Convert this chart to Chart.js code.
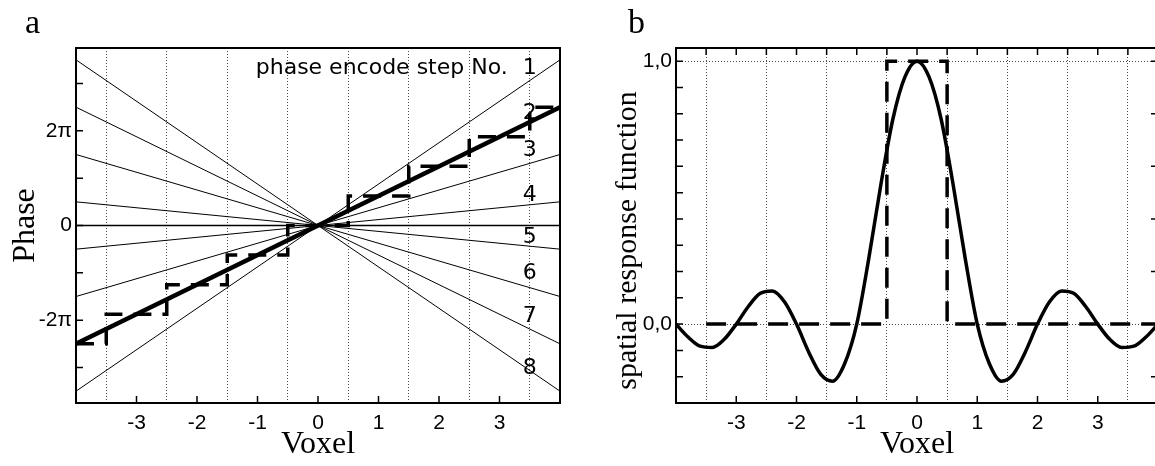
<!DOCTYPE html>
<html>
<head>
<meta charset="utf-8">
<title>Phase encoding and spatial response</title>
<script src="https://cdn.jsdelivr.net/npm/chart.js"></script>
<style>
  html, body { margin: 0; padding: 0; background: #fff; }
  body { width: 1155px; height: 466px; overflow: hidden; position: relative; }
  .panel { position: absolute; top: 0; }
  #panelA { left: 0; }
  #panelB { left: 580px; }
</style>
</head>
<body>
<div class="panel" id="panelA"><canvas id="phaseChart" width="580" height="466"></canvas></div>
<div class="panel" id="panelB"><canvas id="responseChart" width="600" height="466"></canvas></div>

<script>
// ---- panel a: phase (in units of pi) along the voxel axis, 8 phase encode steps
const stepNames = ['1', '2', '3', '4', '5', '6', '7', '8'];
const stepPhaseLeft = [-3.5, -2.5, -1.5, -0.5, 0.5, 1.5, 2.5, 3.5];   // at voxel -4
const stepPhaseRight = [3.5, 2.5, 1.5, 0.5, -0.5, -1.5, -2.5, -3.5];  // at voxel +4
const boldStep = 1; // step No. 2 drawn heavy
const lineEnds = [-4, 4];
const zeroPhase = [0, 0];
const voxelCentres = [-4, -3, -2, -1, 0, 1, 2, 3, 4];
const sampledPhase = [-2.5, -1.875, -1.25, -0.625, 0, 0.625, 1.25, 1.875, 2.5];
const voxelTicks = [-3, -2, -1, 0, 1, 2, 3];
const phaseTicks = [-3, -2, -1, 0, 1, 2, 3];
const phaseTickText = { '-2': '-2π', '0': '0', '2': '2π' };

// ---- panel b: spatial response function
const responseX = [-4, -3.8, -3.6, -3.4, -3.2, -3, -2.8, -2.6, -2.4, -2.2, -2, -1.8, -1.6, -1.4, -1.2, -1,
  -0.8, -0.6, -0.4, -0.2, 0, 0.2, 0.4, 0.6, 0.8, 1, 1.2, 1.4, 1.6, 1.8, 2, 2.2, 2.4, 2.6, 2.8, 3,
  3.2, 3.4, 3.6, 3.8, 4];
const responseY = [0, -0.049, -0.084, -0.089, -0.058, 0, 0.067, 0.117, 0.126, 0.085, 0, -0.105, -0.19, -0.217, -0.15, 0,
  0.25, 0.53, 0.78, 0.94, 1, 0.94, 0.78, 0.53, 0.25, 0, -0.15, -0.217, -0.19, -0.105, 0, 0.085, 0.126, 0.117, 0.067, 0,
  -0.058, -0.089, -0.084, -0.049, 0];
const boxX = [-3.5, -0.5, -0.5, 0.5, 0.5, 4];
const boxY = [0, 0, 1, 1, 0, 0];
const responseTicks = [-0.2, -0.1, 0, 0.1, 0.2, 0.3, 0.4, 0.5, 0.6, 0.7, 0.8, 0.9, 1.0];
const responseTicksRight = [-0.2, 0, 0.2, 0.4, 0.6, 0.8, 1.0];
const halfVoxelTicks = [-3.5, -3, -2.5, -2, -1.5, -1, -0.5, 0, 0.5, 1, 1.5, 2, 2.5, 3, 3.5];

const pts = (xs, ys) => xs.map((x, i) => ({ x: x, y: ys[i] }));

const xTickFont = { family: 'Liberation Sans', size: 21 };
const yTickFont = { family: 'Liberation Sans', size: 21 };
const titleFont = { family: 'Liberation Serif', size: 32 };
const gridGrey = '#4a4a4a';

// frame, inward tick marks and text labels drawn through the chart scales
const framePlugin = {
  id: 'frame',
  afterDatasetsDraw(chart, args, o) {
    const ctx = chart.ctx;
    const a = chart.chartArea;
    const x = chart.scales.x, y = chart.scales.y;
    ctx.save();
    ctx.strokeStyle = '#000';
    ctx.lineWidth = 1.5;
    ctx.beginPath();
    (o.bottom || []).forEach(v => { const p = x.getPixelForValue(v); ctx.moveTo(p, a.bottom); ctx.lineTo(p, a.bottom - o.tick); });
    (o.top || []).forEach(v => { const p = x.getPixelForValue(v); ctx.moveTo(p, a.top); ctx.lineTo(p, a.top + o.tick); });
    (o.left || []).forEach(v => { const p = y.getPixelForValue(v); ctx.moveTo(a.left, p); ctx.lineTo(a.left + o.tick, p); });
    (o.right || []).forEach(v => { const p = y.getPixelForValue(v); ctx.moveTo(a.right, p); ctx.lineTo(a.right - o.tick, p); });
    ctx.stroke();
    ctx.lineWidth = 2;
    ctx.strokeRect(a.left, a.top, a.width, a.height);

    ctx.fillStyle = '#000';
    ctx.textBaseline = 'alphabetic';
    (o.texts || []).forEach(t => {
      ctx.font = t.font;
      ctx.textAlign = t.align || 'center';
      ctx.fillText(t.text, x.getPixelForValue(t.x) + (t.dx || 0), y.getPixelForValue(t.y));
    });
    if (o.letter) {
      ctx.font = '34px "Liberation Serif"';
      ctx.textAlign = 'left';
      ctx.fillText(o.letter.text, o.letter.left, o.letter.baseline);
    }
    ctx.restore();
  }
};

// ---------------- panel a ----------------
const phaseDatasets = [];
phaseDatasets.push({
  label: 'sampled phase',
  data: pts(voxelCentres, sampledPhase),
  stepped: 'middle',
  borderColor: '#000', borderWidth: 3.5, borderDash: [18, 11], pointRadius: 0
});
phaseDatasets.push({
  label: 'step ' + stepNames[boldStep],
  data: pts(lineEnds, [stepPhaseLeft[boldStep], stepPhaseRight[boldStep]]),
  borderColor: '#000', borderWidth: 4.5, pointRadius: 0
});
stepNames.forEach((name, i) => {
  phaseDatasets.push({
    label: 'step ' + name,
    data: pts(lineEnds, [stepPhaseLeft[i], stepPhaseRight[i]]),
    borderColor: '#000', borderWidth: 1, pointRadius: 0
  });
});
phaseDatasets.push({
  label: 'zero',
  data: pts(lineEnds, zeroPhase),
  borderColor: '#000', borderWidth: 1.3, pointRadius: 0
});

const stepLabelPhase = [3.21, 2.26, 1.46, 0.51, -0.38, -1.12, -2.03, -3.13];
const phaseTexts = stepNames.map((n, i) => ({ text: n, x: 3.5, y: stepLabelPhase[i], font: '22px "DejaVu Sans"' }));
phaseTexts.push({ text: 'phase encode step No.', x: 3.5, dx: -22, y: stepLabelPhase[0], align: 'right', font: '22px "DejaVu Sans"' });

new Chart(document.getElementById('phaseChart'), {
  type: 'line',
  data: { datasets: phaseDatasets },
  options: {
    responsive: false,
    animation: false,
    layout: { padding: { left: 0, right: 20, top: 48, bottom: 0 } },
    plugins: {
      legend: { display: false },
      tooltip: { enabled: false },
      frame: {
        tick: 7,
        bottom: voxelTicks,
        left: phaseTicks,
        texts: phaseTexts,
        letter: { text: 'a', left: 25, baseline: 33 }
      }
    },
    scales: {
      x: {
        type: 'linear', min: -4, max: 4,
        ticks: {
          stepSize: 0.5, autoSkip: false, maxRotation: 0, padding: 8, color: '#000', font: xTickFont,
          callback: v => (Number.isInteger(v) && Math.abs(v) < 4) ? String(v) : ''
        },
        grid: {
          drawTicks: false, lineWidth: 1,
          color: c => (c.tick && !Number.isInteger(c.tick.value)) ? gridGrey : 'rgba(0,0,0,0)'
        },
        border: { display: false, dash: [1, 2] },
        title: { display: true, text: 'Voxel', color: '#000', font: titleFont, padding: { top: 0, bottom: 2 } },
        afterFit: s => { s.height = 63; }
      },
      y: {
        type: 'linear', min: -3.75, max: 3.75,
        ticks: {
          stepSize: 1, padding: 4, includeBounds: false, color: '#000', font: yTickFont,
          callback: v => phaseTickText[String(v)] || ''
        },
        grid: { display: false, drawTicks: false },
        border: { display: false },
        title: { display: true, text: 'Phase', color: '#000', font: titleFont, padding: { top: 6, bottom: 0 } },
        afterFit: s => { s.width = 76; }
      }
    }
  },
  plugins: [framePlugin]
});

// ---------------- panel b ----------------
new Chart(document.getElementById('responseChart'), {
  type: 'line',
  data: {
    datasets: [
      {
        label: 'spatial response',
        data: pts(responseX, responseY),
        cubicInterpolationMode: 'monotone',
        borderColor: '#000', borderWidth: 3.5, pointRadius: 0
      },
      {
        label: 'voxel profile',
        data: pts(boxX, boxY),
        borderColor: '#000', borderWidth: 3.5, borderDash: [20, 11], pointRadius: 0
      }
    ]
  },
  options: {
    responsive: false,
    animation: false,
    layout: { padding: { left: 0, right: 22, top: 48, bottom: 0 } },
    plugins: {
      legend: { display: false },
      tooltip: { enabled: false },
      frame: {
        tick: 7,
        bottom: voxelTicks,
        top: halfVoxelTicks,
        left: responseTicks,
        right: responseTicksRight,
        letter: { text: 'b', left: 48, baseline: 33 }
      }
    },
    scales: {
      x: {
        type: 'linear', min: -4, max: 4,
        ticks: {
          stepSize: 0.5, autoSkip: false, maxRotation: 0, padding: 8, color: '#000', font: xTickFont,
          callback: v => (Number.isInteger(v) && Math.abs(v) < 4) ? String(v) : ''
        },
        grid: {
          drawTicks: false, lineWidth: 1,
          color: c => (c.tick && !Number.isInteger(c.tick.value)) ? gridGrey : 'rgba(0,0,0,0)'
        },
        border: { display: false, dash: [1, 2] },
        title: { display: true, text: 'Voxel', color: '#000', font: titleFont, padding: { top: 0, bottom: 2 } },
        afterFit: s => { s.height = 63; }
      },
      y: {
        type: 'linear', min: -0.3, max: 1.05,
        ticks: {
          stepSize: 0.1, padding: 4, includeBounds: false, color: '#000', font: yTickFont,
          callback: v => Math.abs(v) < 1e-6 ? '0,0' : (Math.abs(v - 1) < 1e-6 ? '1,0' : '')
        },
        grid: {
          drawTicks: false, lineWidth: 1,
          color: c => (c.tick && (Math.abs(c.tick.value) < 1e-6 || Math.abs(c.tick.value - 1) < 1e-6)) ? gridGrey : 'rgba(0,0,0,0)'
        },
        border: { display: false, dash: [1, 2] },
        title: {
          display: true, text: 'spatial response function\u00a0\u00a0\u00a0\u00a0', color: '#000',
          font: { family: 'Liberation Serif', size: 30 }, padding: { top: 30, bottom: 0 }
        },
        afterFit: s => { s.width = 96; }
      }
    }
  },
  plugins: [framePlugin]
});
</script>
</body>
</html>
